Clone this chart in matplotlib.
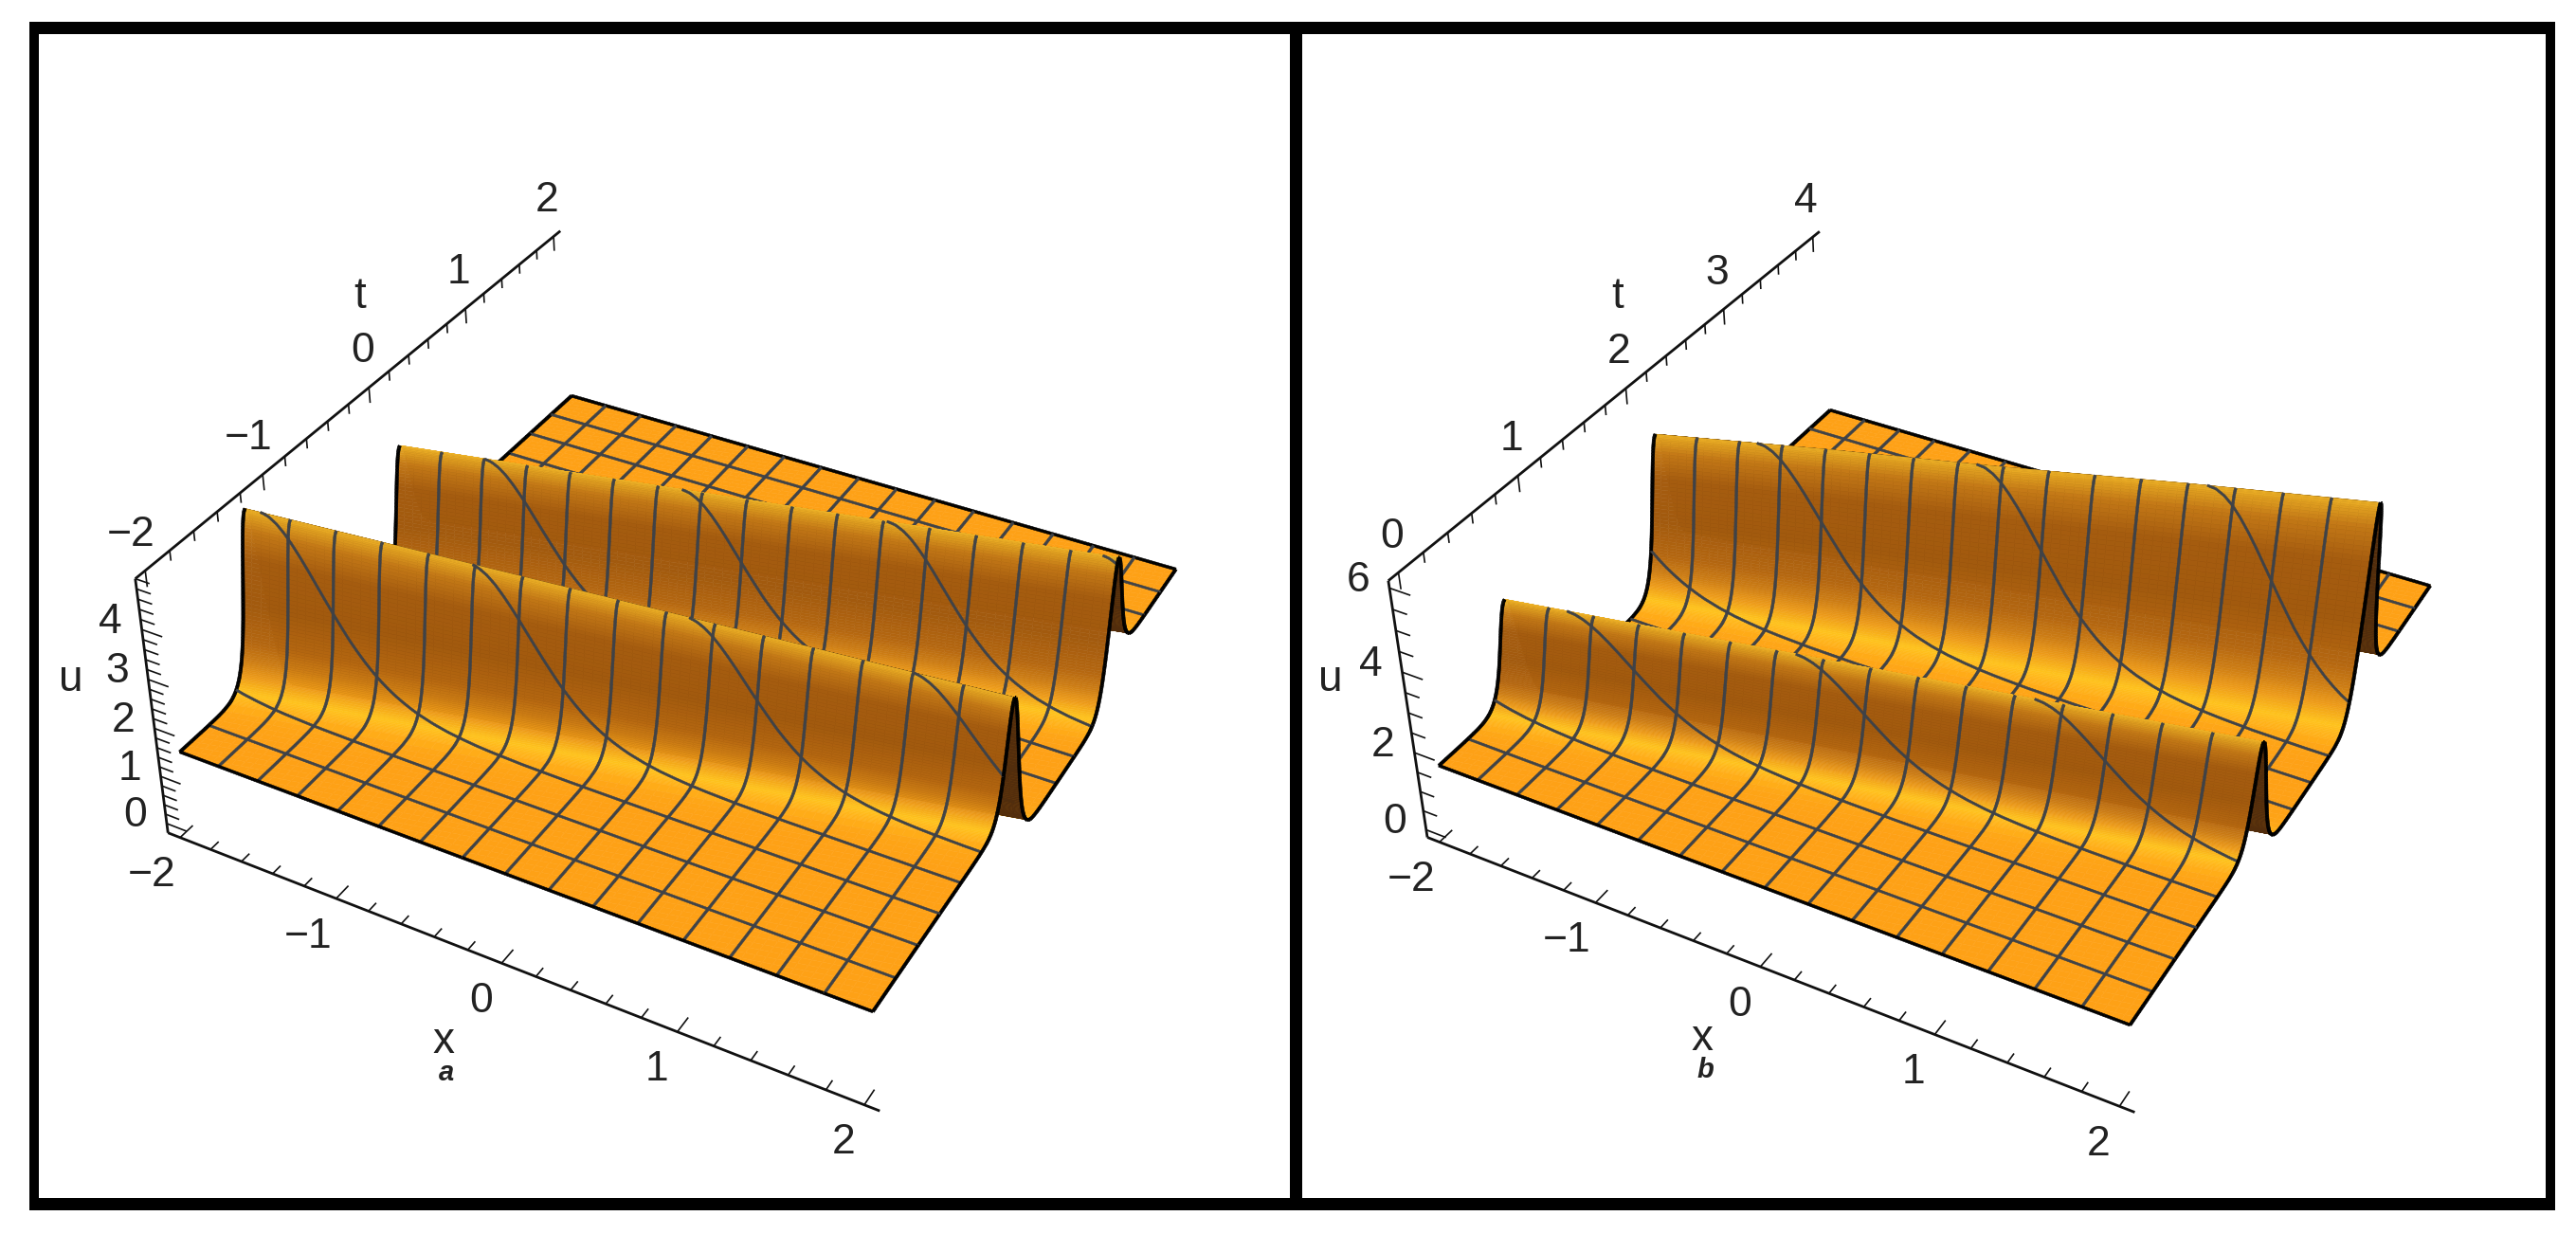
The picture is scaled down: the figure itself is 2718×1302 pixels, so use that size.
import numpy as np
import matplotlib
matplotlib.use("Agg")
import matplotlib.pyplot as plt
from matplotlib.patches import Rectangle
from mpl_toolkits.mplot3d.art3d import Poly3DCollection

W, H = 2718, 1302

# Ridge cross-section: distance from crest (t units) -> fraction of crest height
profile_dist = [0, .01, .02, .03, .04, .05, .06, .07, .08, .09, .10, .11, .12, .13, .14, .15, .16, .17,
                .18, .19, .20, .22, .24, .26, .28, .30, .34, .40, .50, .70]
profile_frac = [1, .992, .968, .930, .879, .820, .755, .686, .617, .549, .484, .420, .365, .314, .269,
                .229, .195, .165, .140, .118, .099, .070, .049, .035, .024, .017, .008, .003, .0005, 0]

crest_x = [-2, -1, 0, 1, 2]
# Panel a
a_x_ticks = [-2, -1, 0, 1, 2]
a_t_ticks = [-2, -1, 0, 1, 2]
a_u_ticks = [0, 1, 2, 3, 4]
a_base = 1.43
a_valley = 0.53
a_front_crest = [4.9, 4.6, 4.3, 4.0, 3.7]
a_back_crest = [3.6, 3.6, 3.6, 3.6, 3.6]
a_crest_t_at_x0 = [-0.83, 0.58]
a_drift = 0.22
# Panel b
b_x_ticks = [-2, -1, 0, 1, 2]
b_t_ticks = [0, 1, 2, 3, 4]
b_u_ticks = [0, 2, 4, 6]
b_base = 1.57
b_valley = 0.87
b_front_crest = [4.0, 4.0, 4.0, 4.0, 4.0]
b_back_crest = [4.85, 5.2, 5.5, 5.85, 6.15]
b_crest_t_at_x0 = [1.08, 2.53]
b_drift = 0.20

fig = plt.figure(figsize=(W / 100, H / 100), dpi=100, facecolor="white")
plt.rcParams["font.family"] = ["Liberation Sans", "DejaVu Sans"]

shade_f = [0, .015, .05, .12, .20, .30, .50, .75, .90, .98, 1.0]
shade_rgb = np.array([(254, 161, 22), (255, 175, 24), (255, 195, 28), (238, 155, 24), (205, 125, 20),
                      (180, 102, 16), (162, 90, 14), (165, 92, 15), (195, 120, 22), (225, 160, 32),
                      (240, 180, 40)]) / 255.0
UNDER = np.array([82, 45, 12]) / 255.0
MESH = (62 / 255, 66 / 255, 72 / 255, 1)
BLACK = (0, 0, 0, 1)


def frac(d):
    return np.interp(np.abs(d), profile_dist, profile_frac)


def fit_camera(ax, pairs):
    ax.apply_aspect()
    o = ax.transData.transform((0, 0))
    e = ax.transData.transform((1, 1))
    sx, sy = e[0] - o[0], e[1] - o[1]
    rows = []
    for (X, Y, Z), (px, py) in pairs:
        u, v = px / 1000, py / 1000
        rows.append([X, Y, Z, 1, 0, 0, 0, 0, -u * X, -u * Y, -u * Z, -u])
        rows.append([0, 0, 0, 0, X, Y, Z, 1, -v * X, -v * Y, -v * Z, -v])
    P = np.linalg.svd(np.array(rows))[2][-1].reshape(3, 4)
    D = np.array([[1000 / sx, 0, -o[0] / sx],
                  [0, -1000 / sy, (H - o[1]) / sy],
                  [0, 0, 1]])
    P = D @ P
    if P[2] @ np.array([0, 0, 2, 1]) < 0:
        P = -P
    P = P / (P[2] @ np.array([0, 0, 2, 1]))
    M = np.vstack([P[0], P[1], [0, 0, 0, -1], P[2]])
    cam = -np.linalg.solve(P[:, :3], P[:, 3])
    return M, cam, sx, sy


def panel(rect, xlim, tlim, zlim, base, valley, crests, centers, drift, xt, tt, ut, zstep, corners, caption, cap_xy):
    ax = fig.add_axes(rect, projection="3d")
    ax.set_axis_off()
    ax.patch.set_visible(False)
    ax.computed_zorder = False
    pad = 0.08
    x0, x1 = xlim
    t0, t1 = tlim
    z0, z1 = zlim
    xa, xb, ta, tb = x0 - pad, x1 + pad, t0 - pad, t1 + pad
    A, B, C, D, E, F, G, Hh = corners
    pairs = [((xa, ta, z0), A), ((xb, ta, z0), B), ((xa, ta, z1), C), ((xa, tb, z1), D),
             ((x0, t0, base), E), ((x1, t0, base), F), ((x1, t1, base), G), ((x0, t1, base), Hh)]
    M, cam, sx, sy = fit_camera(ax, pairs)
    invM = np.linalg.inv(M)
    ax.get_proj = lambda: M

    def to_px(p):
        v = M @ np.array([p[0], p[1], p[2], 1.0])
        q = ax.transData.transform((v[0] / v[3], v[1] / v[3]))
        return q[0], H - q[1]

    def surf_z(x, t):
        rel = t - drift * x
        floor = np.where((rel > centers[0]) & (rel < centers[1]), valley, base)
        return floor + sum((np.interp(x, crest_x, h) - floor) * frac(rel - c)
                           for h, c in zip(crests, centers))

    # surface grid, sheared along the crest drift
    keep = np.arange(t0 - abs(drift) * 2 - .06, t1 + abs(drift) * 2 + .06, .04)
    for c in centers:
        keep = keep[np.abs(keep - c) > 0.31]
    r_list = [keep]
    d_table = np.array(profile_dist[:26])
    d_rows = np.interp(np.linspace(0, 25, 76), np.arange(26), d_table)
    for c in centers:
        r_list += [c - d_rows, c + d_rows]
    rows = np.unique(np.round(np.concatenate(r_list), 5))
    cols = np.arange(0, 81) * (x1 - x0) / 80 + x0
    f_rows = sum(frac(rows - c) for c in centers)
    XX, RR = np.meshgrid(cols, rows)
    TT = np.clip(RR + drift * XX, t0, t1)
    ZZ = surf_z(XX, RR + drift * XX)

    quads = np.stack([
        np.stack([XX[:-1, :-1], TT[:-1, :-1], ZZ[:-1, :-1]], -1),
        np.stack([XX[:-1, 1:], TT[:-1, 1:], ZZ[:-1, 1:]], -1),
        np.stack([XX[1:, 1:], TT[1:, 1:], ZZ[1:, 1:]], -1),
        np.stack([XX[1:, :-1], TT[1:, :-1], ZZ[1:, :-1]], -1)], 2).reshape(-1, 4, 3)

    dr = np.diff(rows)
    nc = len(cols) - 1
    f_mid = np.repeat((f_rows[:-1] + f_rows[1:]) / 2, nc)
    du = (np.diff(ZZ, axis=0)[:, :-1] / dr[:, None]).ravel()
    rgb = np.stack([np.interp(f_mid, shade_f, shade_rgb[:, i]) for i in range(3)], -1)
    mid = quads.mean(1)
    n = np.stack([drift * du, -du, np.ones_like(du)], -1)
    under = np.sum(n * (cam - mid), -1) < 0
    rgb[under] = UNDER
    colors = np.c_[rgb, np.ones(len(rgb))]

    def ribbon(p, width):
        p = p + 0.008 * (cam - p)
        v = (M @ np.c_[p, np.ones(len(p))].T).T
        vx, vy, vz = v[:, 0] / v[:, 3], v[:, 1] / v[:, 3], v[:, 2] / v[:, 3]
        dx = np.diff(vx) * sx
        dy = np.diff(vy) * sy
        L = np.hypot(dx, dy) + 1e-9
        nx = -dy / L * width / 2 / sx
        ny = dx / L * width / 2 / sy
        out = []
        for a, sgn in ((0, 1), (1, 1), (1, -1), (0, -1)):
            i = np.arange(len(dx)) + a
            h = np.c_[vx[i] + sgn * nx, vy[i] + sgn * ny, vz[i], np.ones(len(dx))]
            d = (invM @ h.T).T
            out.append(d[:, :3] / d[:, 3:])
        return np.stack(out, 1)

    pieces, piece_colors = [quads], [colors]

    def add(p, width, color, cull=True):
        q = ribbon(p, width)
        if cull:
            m = (p[:-1] + p[1:]) / 2
            rel = m[:, 1] - drift * m[:, 0]
            hidden = np.zeros(len(q), bool)
            for c in centers:
                hidden |= (rel - c > 0.0) & (rel - c < 0.42)
            q = q[~hidden]
        pieces.append(q)
        piece_colors.append(np.tile(color, (len(q), 1)))

    xs_fine = np.linspace(x0, x1, 241)
    for i in range(1, 16):
        t = t0 + (t1 - t0) * i / 16
        add(np.c_[xs_fine, np.full_like(xs_fine, t), surf_z(xs_fine, np.full_like(xs_fine, t))], 2.4, MESH)
        x = x0 + (x1 - x0) * i / 16
        tv = np.clip(rows + drift * x, t0, t1)
        add(np.c_[np.full_like(tv, x), tv, surf_z(x, tv)], 2.8, MESH)
    for x, c in ((x0, True), (x1, False)):
        tv = np.clip(rows + drift * x, t0, t1)
        add(np.c_[np.full_like(tv, x), tv, surf_z(x, tv)], 3.4, BLACK, cull=c)
    for t in (t0, t1):
        add(np.c_[xs_fine, np.full_like(xs_fine, t), surf_z(xs_fine, np.full_like(xs_fine, t))], 3.0, BLACK, cull=False)

    col = Poly3DCollection(np.concatenate(pieces), facecolors=np.concatenate(piece_colors),
                           edgecolors=np.concatenate(piece_colors), linewidths=0.35, zsort="average")
    ax.add_collection3d(col)
    col.set_clip_on(False)

    # axes
    def line(a, b, lw):
        l, = ax.plot([a[0], b[0]], [a[1], b[1]], [a[2], b[2]], color="#111111", lw=lw,
                     solid_capstyle="butt", zorder=5)
        l.set_clip_on(False)

    line((xa, ta, z0), (xb, ta, z0), 2.0)
    line((xa, ta, z0), (xa, ta, z1), 2.0)
    line((xa, ta, z1), (xa, tb, z1), 2.0)

    for m in np.arange(x0, x1 + 1e-6, .2):
        major = abs(m - round(m)) < 1e-6
        line((m, ta, z0), (m, ta + (.11 if major else .07), z0), 1.2)
    for m in np.arange(t0, t1 + 1e-6, .2):
        major = abs(m - round(m)) < 1e-6
        line((xa, m, z1), (xa, m, z1 - (.32 if major else .2) * (z1 - z0) / 5.2), 1.2)
    for m in np.arange(0, z1 + 1e-6, zstep):
        major = any(abs(m - k) < 1e-6 for k in ut)
        line((xa, ta, m), (xa + (.13 if major else .09), ta, m), 1.2)

    def label(txt, px, py, **kw):
        kw.setdefault("fontsize", 32)
        fig.text(px / W, 1 - py / H, txt, ha="center", va="center", color="#222222", **kw)

    def tick_text(v):
        return str(v).replace("-", "\u2212")

    for v in xt:
        p = to_px((v, ta, z0))
        label(tick_text(v), p[0] - 22 - (8 if v < 0 else 0), p[1] + 40)
    for v in tt:
        p = to_px((xa, v, z1))
        label(tick_text(v), p[0] - 7 - (8 if v < 0 else 0), p[1] - 38)
    for v in ut:
        p = to_px((xa, ta, v))
        label(tick_text(v), p[0] - 33, p[1] - 8)
    label("x", cap_xy[0], cap_xy[1], fontsize=33)
    label(caption, cap_xy[0] + 3, cap_xy[1] + 33, fontsize=21, style="italic", weight="bold")
    return ax


ax_a = panel([0.0, 0.0, 0.5, 1.0], (-2, 2), (-2, 2), (-0.2, 5.0), a_base, a_valley, [a_front_crest, a_back_crest],
             a_crest_t_at_x0, a_drift, a_x_ticks, a_t_ticks, a_u_ticks, 0.2,
             [(178, 880), (925, 1173), (142, 610), (591, 245),
              (190, 793), (924, 1066), (1241, 601), (603, 416)], "a", (468, 1099))
fig.text(380 / W, 1 - 313 / H, "t", ha="center", va="center", fontsize=33, color="#222222")
fig.text(75 / W, 1 - 717 / H, "u", ha="center", va="center", fontsize=33, color="#222222")

ax_b = panel([0.5, 0.0, 0.5, 1.0], (-2, 2), (0, 4), (-0.2, 6.17), b_base, b_valley, [b_front_crest, b_back_crest],
             b_crest_t_at_x0, b_drift, b_x_ticks, b_t_ticks, b_u_ticks, 0.5,
             [(1505, 883), (2251, 1174), (1465, 613), (1919, 244),
              (1519, 808), (2249, 1081), (2564, 618), (1932, 433)], "b", (1796, 1096))
fig.text(1707 / W, 1 - 313 / H, "t", ha="center", va="center", fontsize=33, color="#222222")
fig.text(1404 / W, 1 - 717 / H, "u", ha="center", va="center", fontsize=33, color="#222222")

# frame
for (x, y, w, h) in [(31, 23, 2665, 13), (31, 1264, 2665, 13), (31, 23, 10, 1254),
                     (2686, 23, 10, 1254), (1361, 23, 13, 1254)]:
    fig.add_artist(Rectangle((x / W, 1 - (y + h) / H), w / W, h / H, transform=fig.transFigure,
                             facecolor="black", edgecolor="none", zorder=20))

fig.savefig("out.png", dpi=100, facecolor="white")
